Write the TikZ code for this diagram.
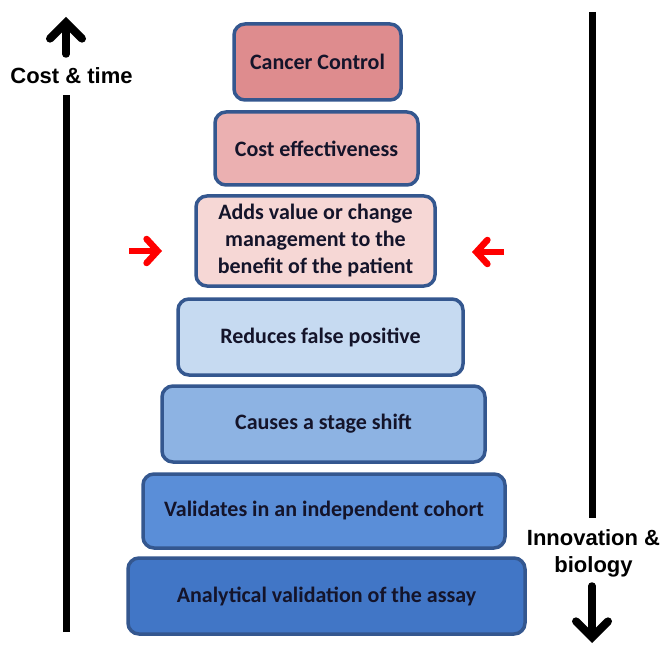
\documentclass[tikz,border=0pt]{standalone}
\usepackage{fontspec}
\setmainfont{Carlito}
\newfontfamily\arialfont{Liberation Sans}
\usetikzlibrary{arrows.meta}
\definecolor{edgeblue}{HTML}{34578F}
\definecolor{cA}{HTML}{DE8C8E}
\definecolor{cB}{HTML}{EBB0B1}
\definecolor{cC}{HTML}{F6D7D5}
\definecolor{cD}{HTML}{C6DAF1}
\definecolor{cE}{HTML}{8DB3E3}
\definecolor{cF}{HTML}{5A8ED8}
\definecolor{cG}{HTML}{4176C6}
\definecolor{txt}{HTML}{14142A}
\tikzset{
  tier/.style={draw=edgeblue, line width=3.5pt, rounded corners=11pt, text=txt,
    font=\fontsize{22}{27}\selectfont\bfseries, align=center, inner sep=0pt},
  bigarrow/.style={line width=7.5pt, line cap=round, -{Straight Barb[length=16pt,width=32pt,line width=8pt,line cap=round]}},
  redarrow/.style={draw=red, line width=6.5pt, -{Straight Barb[length=11pt,width=24pt,line width=6.5pt,line cap=round]}},
  sidelabel/.style={font=\arialfont\fontsize{22}{27}\selectfont\bfseries, align=center, inner sep=0pt}
}
\begin{document}
\begin{tikzpicture}[x=1pt,y=-1pt]
\useasboundingbox (0,0) rectangle (661,647);
\fill[white] (0,0) rectangle (661,647);
% tiers
\node[tier, fill=cA, minimum width=167pt, minimum height=76pt] (t1) at (317.5,62) {Cancer Control};
\node[tier, fill=cB, minimum width=203pt, minimum height=73pt] (t2) at (316.5,148.5) {Cost effectiveness};
\node[tier, fill=cC, minimum width=239pt, minimum height=90pt] (t3) at (315.5,241) {Adds value or change\\management to the\\benefit of the patient};
\node[tier, fill=cD, minimum width=285pt, minimum height=76pt] (t4) at (320.5,337) {Reduces false positive};
\node[tier, fill=cE, minimum width=323pt, minimum height=76pt] (t5) at (323.5,424) {Causes a stage shift};
\node[tier, fill=cF, minimum width=362pt, minimum height=74pt] (t6) at (324,511) {Validates in an independent cohort};
\node[tier, fill=cG, minimum width=397pt, minimum height=76pt] (t7) at (326.5,596) {Analytical validation of the assay};
% left axis
\node[sidelabel] (costlbl) at (71.5,76) {Cost \& time};
\coordinate (lbot) at (66,632);
\coordinate (lmid) at (66,95);
\coordinate (ltopA) at (66,54);
\coordinate (ltopB) at (66,17);
\draw[line width=7pt] (lbot) -- (lmid);
\draw[bigarrow] (ltopA) -- (ltopB);
% right axis
\node[sidelabel] (innolbl) at (593.5,553) {Innovation \&\\biology};
\coordinate (rtop) at (592,12);
\coordinate (rmid) at (592,518);
\coordinate (rbotA) at (592,586);
\coordinate (rbotB) at (592,643);
\draw[line width=7pt] (rtop) -- (rmid);
\draw[bigarrow] (rbotA) -- (rbotB);
% red arrows
\coordinate (la) at (129,251);
\coordinate (lb) at (162,251);
\coordinate (ra) at (504,252);
\coordinate (rb) at (472,252);
\draw[redarrow] (la) -- (lb);
\draw[redarrow] (ra) -- (rb);
\end{tikzpicture}
\end{document}
